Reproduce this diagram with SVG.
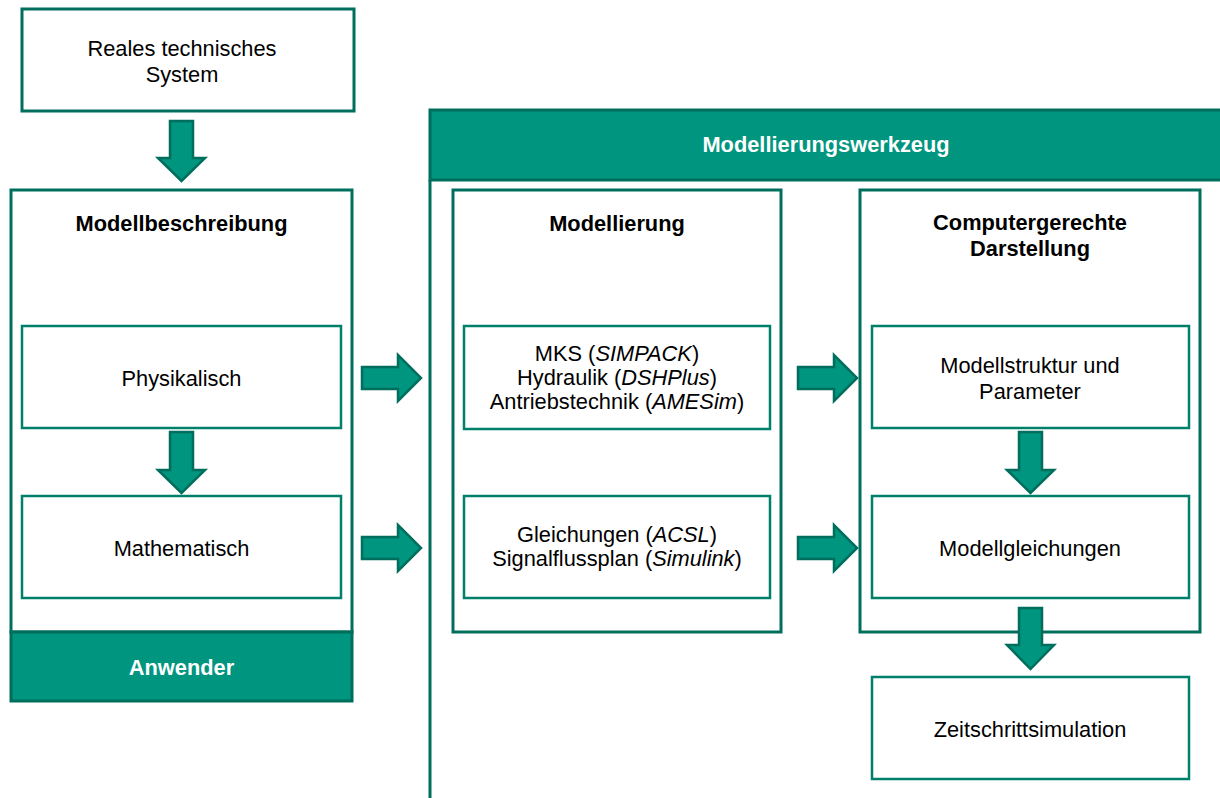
<svg xmlns="http://www.w3.org/2000/svg" width="1220" height="798" viewBox="0 0 1220 798">
<style>
.box{fill:#ffffff;stroke:#006e5c;stroke-width:3}
.inner{fill:#ffffff;stroke:#00806a;stroke-width:2.5}
.bar{fill:#00957f;stroke:#006e5c;stroke-width:3}
.arr{fill:#00957f;stroke:#006e5c;stroke-width:2.5;stroke-linejoin:miter}
.t{font-family:"Liberation Sans",Arial,sans-serif;font-size:21.8px;fill:#000;text-anchor:middle}
.b{font-family:"Liberation Sans",Arial,sans-serif;font-size:21.8px;font-weight:bold;fill:#000;text-anchor:middle}
.w{font-family:"Liberation Sans",Arial,sans-serif;font-size:21.8px;font-weight:bold;fill:#ffffff;text-anchor:middle}
</style>
<rect width="1220" height="798" fill="#ffffff"/>
<g id="real">
<rect class="box" x="22" y="9" width="332" height="102"/>
<text class="t" x="182" y="56">Reales technisches</text>
<text class="t" x="182" y="82">System</text>
</g>
<g id="modellbeschreibung">
<rect class="box" x="11" y="190" width="341" height="442"/>
<text class="b" x="181.5" y="231">Modellbeschreibung</text>
</g>
<g id="anwender">
<rect class="bar" x="11" y="632" width="341" height="69"/>
<text class="w" x="181.5" y="675">Anwender</text>
</g>
<g id="physikalisch">
<rect class="inner" x="22" y="326" width="319" height="102"/>
<text class="t" x="181.5" y="386">Physikalisch</text>
</g>
<g id="mathematisch">
<rect class="inner" x="22" y="496" width="319" height="102"/>
<text class="t" x="181.5" y="556">Mathematisch</text>
</g>
<g id="werkzeug">
<rect class="bar" x="430" y="110" width="795" height="70"/>
<line x1="430" y1="180" x2="430" y2="800" stroke="#006e5c" stroke-width="3"/>
<text class="w" x="826" y="152">Modellierungswerkzeug</text>
</g>
<g id="modellierung">
<rect class="box" x="453" y="190" width="328" height="442"/>
<text class="b" x="617" y="231">Modellierung</text>
</g>
<g id="mks">
<rect class="inner" x="464" y="326" width="306" height="103"/>
<text class="t" x="617" y="361">MKS (<tspan font-style="italic">SIMPACK</tspan>)</text>
<text class="t" x="617" y="385">Hydraulik (<tspan font-style="italic">DSHPlus</tspan>)</text>
<text class="t" x="617" y="409">Antriebstechnik (<tspan font-style="italic">AMESim</tspan>)</text>
</g>
<g id="gleichungen">
<rect class="inner" x="464" y="496" width="306" height="102"/>
<text class="t" x="617" y="542">Gleichungen (<tspan font-style="italic">ACSL</tspan>)</text>
<text class="t" x="617" y="566">Signalflussplan (<tspan font-style="italic">Simulink</tspan>)</text>
</g>
<g id="computergerecht">
<rect class="box" x="860" y="190" width="340" height="442"/>
<text class="b" x="1030" y="230">Computergerechte</text>
<text class="b" x="1030" y="256">Darstellung</text>
</g>
<g id="modellstruktur">
<rect class="inner" x="872" y="326" width="317" height="102"/>
<text class="t" x="1030" y="373">Modellstruktur und</text>
<text class="t" x="1030" y="399">Parameter</text>
</g>
<g id="modellgleichungen">
<rect class="inner" x="872" y="496" width="317" height="102"/>
<text class="t" x="1030" y="556">Modellgleichungen</text>
</g>
<g id="zeitschritt">
<rect class="inner" x="872" y="677" width="317" height="102"/>
<text class="t" x="1030" y="737">Zeitschrittsimulation</text>
</g>
<g id="connectors">
<polygon class="arr" points="170,121 193,121 193,158 205,158 181.5,181 158,158 170,158"/>
<polygon class="arr" points="170,432 193,432 193,470 205,470 181.5,493 158,470 170,470"/>
<polygon class="arr" points="1019,432 1042,432 1042,470 1054,470 1030.5,493 1007,470 1019,470"/>
<polygon class="arr" points="1019,608 1042,608 1042,645 1054,645 1030.5,669 1007,645 1019,645"/>
<polygon class="arr" points="362,367 398,367 398,355 421,378 398,401 398,389 362,389"/>
<polygon class="arr" points="362,537 398,537 398,525 421,548 398,571 398,559 362,559"/>
<polygon class="arr" points="798,367 834,367 834,355 857,378 834,401 834,389 798,389"/>
<polygon class="arr" points="798,537 834,537 834,525 857,548 834,571 834,559 798,559"/>
</g>
</svg>
